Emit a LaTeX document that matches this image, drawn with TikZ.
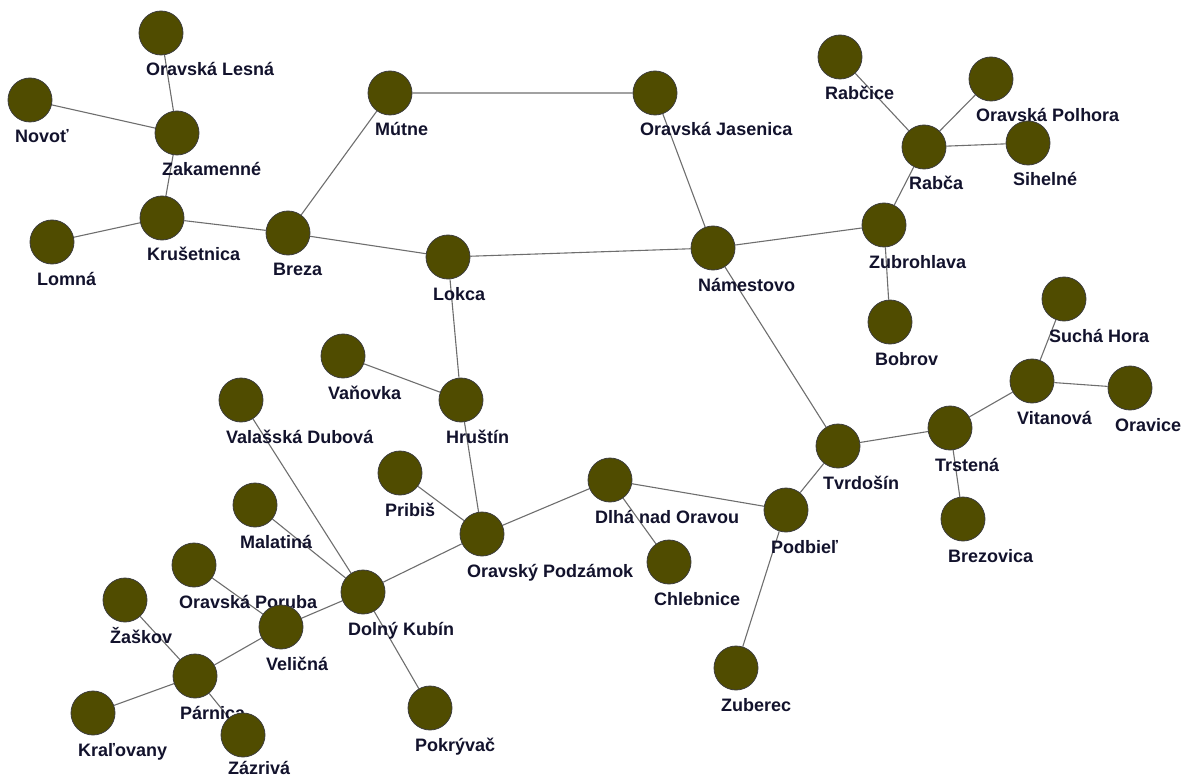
\documentclass[tikz,border=0pt]{standalone}
\usepackage{fontspec}
\setmainfont{Liberation Sans}
\usetikzlibrary{backgrounds}
\definecolor{olivefill}{RGB}{80,76,0}
\definecolor{rimgray}{RGB}{60,60,60}
\definecolor{roadgray}{RGB}{110,110,110}
\definecolor{labelink}{RGB}{18,18,44}
% \placetown[label drop]{name}{x}{y}{text}
\newcommand\placetown[5][43]{%
  \node[town] (#2) at (#3,#4) {};
  \node[townlabel] (#2-l) at (#3-15,#4+#1) {#5};}
\begin{document}
\begin{tikzpicture}[x=1pt,y=-1pt,
  town/.style={circle,draw=rimgray,line width=0.8pt,fill=olivefill,minimum size=44pt,inner sep=0pt},
  townlabel/.style={anchor=base west,inner sep=0pt,text=labelink,font=\bfseries\fontsize{18}{20}\selectfont},
  road/.style={draw=roadgray,line width=1.1pt}]
\useasboundingbox (0,0) rectangle (1186,778);

\placetown{lesna}{161}{33}{Oravská Lesná}
\placetown{novot}{30}{100}{Novoť}
\placetown{zakamenne}{177}{133}{Zakamenné}
\placetown{krusetnica}{162}{218}{Krušetnica}
\placetown{lomna}{52}{242}{Lomná}
\placetown{breza}{288}{233}{Breza}
\placetown{mutne}{390}{93}{Mútne}
\placetown{jasenica}{655}{93}{Oravská Jasenica}
\placetown{lokca}{448}{257}{Lokca}
\placetown{namestovo}{713}{248}{Námestovo}
\placetown{rabcice}{840}{57}{Rabčice}
\placetown{polhora}{991}{79}{Oravská Polhora}
\placetown{rabca}{924}{147}{Rabča}
\placetown{sihelne}{1028}{143}{Sihelné}
\placetown{zubrohlava}{884}{225}{Zubrohlava}
\placetown{bobrov}{890}{322}{Bobrov}
\placetown{suchahora}{1064}{299}{Suchá Hora}
\placetown{vitanova}{1032}{381}{Vitanová}
\placetown{oravice}{1130}{388}{Oravice}
\placetown{trstena}{950}{428}{Trstená}
\placetown{tvrdosin}{838}{446}{Tvrdošín}
\placetown{brezovica}{963}{519}{Brezovica}
\placetown{podbiel}{786}{510}{Podbieľ}
\placetown{dlha}{610}{480}{Dlhá nad Oravou}
\placetown{chlebnice}{669}{562}{Chlebnice}
\placetown{zuberec}{736}{668}{Zuberec}
\placetown{podzamok}{482}{534}{Oravský Podzámok}
\placetown{pribis}{400}{473}{Pribiš}
\placetown{hrustin}{461}{400}{Hruštín}
\placetown{vanovka}{343}{356}{Vaňovka}
\placetown{dubova}{241}{400}{Valašská Dubová}
\placetown{malatina}{255}{505}{Malatiná}
\placetown{poruba}{194}{565}{Oravská Poruba}
\placetown{kubin}{363}{592}{Dolný Kubín}
\placetown{velicna}{281}{627}{Veličná}
\placetown{zaskov}{125}{600}{Žaškov}
\placetown{parnica}{195}{676}{Párnica}
\placetown{kralovany}{93}{713}{Kraľovany}
\placetown[39]{zazriva}{243}{735}{Zázrivá}
\placetown{pokryvac}{430}{708}{Pokrývač}

\begin{scope}[on background layer]
\path[road]
  (lesna) -- (zakamenne)
  (novot) -- (zakamenne)
  (zakamenne) -- (krusetnica)
  (lomna) -- (krusetnica)
  (krusetnica) -- (breza)
  (breza) -- (mutne)
  (breza) -- (lokca)
  (mutne) -- (jasenica)
  (jasenica) -- (namestovo)
  (lokca) -- (namestovo)
  (namestovo) -- (zubrohlava)
  (zubrohlava) -- (rabca)
  (rabca) -- (rabcice)
  (rabca) -- (polhora)
  (rabca) -- (sihelne)
  (zubrohlava) -- (bobrov)
  (namestovo) -- (tvrdosin)
  (tvrdosin) -- (trstena)
  (trstena) -- (vitanova)
  (vitanova) -- (suchahora)
  (vitanova) -- (oravice)
  (trstena) -- (brezovica)
  (tvrdosin) -- (podbiel)
  (podbiel) -- (zuberec)
  (podbiel) -- (dlha)
  (dlha) -- (chlebnice)
  (dlha) -- (podzamok)
  (lokca) -- (hrustin)
  (hrustin) -- (vanovka)
  (hrustin) -- (podzamok)
  (pribis) -- (podzamok)
  (podzamok) -- (kubin)
  (kubin) -- (dubova)
  (kubin) -- (malatina)
  (kubin) -- (pokryvac)
  (kubin) -- (velicna)
  (velicna) -- (poruba)
  (velicna) -- (parnica)
  (parnica) -- (zaskov)
  (parnica) -- (kralovany)
  (parnica) -- (zazriva);
\end{scope}
\end{tikzpicture}
\end{document}
